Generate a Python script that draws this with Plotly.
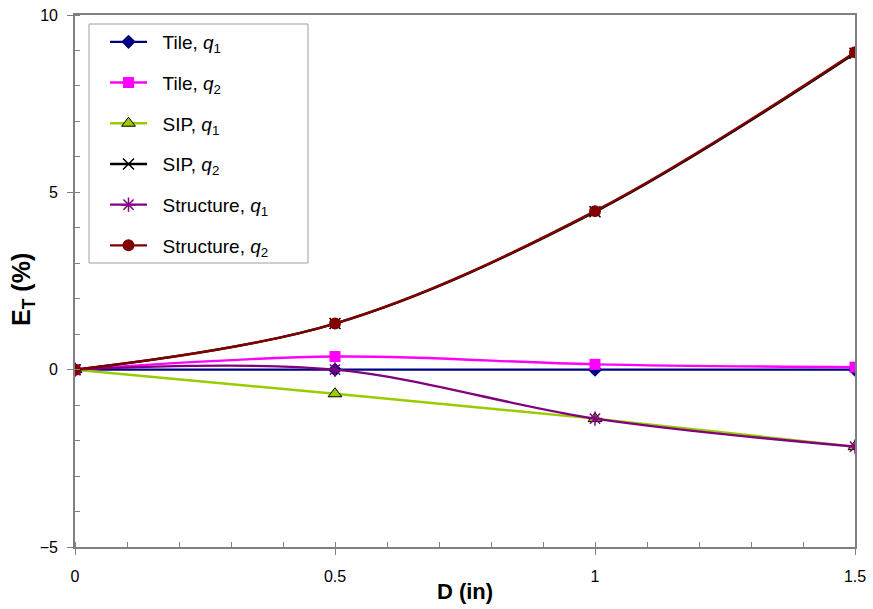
import plotly.graph_objects as go

D = [0, 0.5, 1.0, 1.5]
tile_q1 = [0, 0.0, 0.0, 0.0]
tile_q2 = [0, 0.37, 0.15, 0.07]
sip_q1 = [0, -0.68, -1.38, -2.17]
sip_q2 = [0, 1.3, 4.45, 8.92]
struct_q1 = [0, 0.0, -1.38, -2.17]
struct_q2 = [0, 1.3, 4.47, 8.95]

FONT = "Liberation Sans, Arial, sans-serif"
PAD = "\u00a0\u00a0"

series = [
    ("Tile, <i>q</i><sub>1</sub>", tile_q1, "#000080", dict(symbol="diamond", size=11, color="#000080")),
    ("Tile, <i>q</i><sub>2</sub>", tile_q2, "#FF00FF", dict(symbol="square", size=11, color="#FF00FF")),
    ("SIP, <i>q</i><sub>1</sub>", sip_q1, "#99CC00", dict(symbol="triangle-up", size=12, color="#99CC00", line=dict(color="black", width=1))),
    ("SIP, <i>q</i><sub>2</sub>", sip_q2, "#000000", dict(symbol="x-thin", size=11, color="#000000", line=dict(color="#000000", width=1.5))),
    ("Structure, <i>q</i><sub>1</sub>", struct_q1, "#800080", dict(symbol="asterisk", size=12, color="#800080", line=dict(color="#800080", width=1.5))),
    ("Structure, <i>q</i><sub>2</sub>", struct_q2, "#800000", dict(symbol="circle", size=12, color="#800000")),
]

fig = go.Figure()
for i, (name, ys, col, mk) in enumerate(series):
    fig.add_trace(go.Scatter(
        x=D, y=ys, name=PAD + name, mode="lines+markers",
        line=dict(color=col, width=2.4, shape="spline", smoothing=1),
        marker=mk, legendgroup=f"g{i}",
    ))

axis_common = dict(
    showline=True, linecolor="#808080", linewidth=1.6, mirror=True,
    showgrid=False, zeroline=False, automargin=False,
    ticks="outside", ticklen=6, tickcolor="#808080", tickwidth=1,
    tickfont=dict(family=FONT, size=16, color="black"),
)

fig.update_xaxes(
    range=[0, 1.5], tickvals=[0, 0.5, 1, 1.5], ticktext=["0", "0.5", "1", "1.5"],
    minor=dict(dtick=0.1, ticks="inside", ticklen=5, tickcolor="#808080"),
    ticklabelstandoff=8,
    title=dict(text="<b>D (in)</b>", font=dict(family=FONT, size=22, color="black"), standoff=0),
    **axis_common,
)
fig.update_yaxes(
    range=[-5, 10], tickvals=[-5, 0, 5, 10],
    minor=dict(dtick=1, ticks="inside", ticklen=5, tickcolor="#808080"),
    ticklabelstandoff=6,
    **axis_common,
)

fig.add_annotation(
    text="<b>E<sub>T</sub> (%)</b>", textangle=-90,
    xref="paper", yref="paper", x=(23 - 75) / 780, y=1 - (290 - 15) / 532,
    xanchor="center", yanchor="middle", showarrow=False,
    font=dict(family=FONT, size=25, color="black"),
)

fig.add_shape(
    type="rect", xref="paper", yref="paper",
    x0=(89 - 75) / 780, x1=(308 - 75) / 780,
    y0=1 - (263 - 15) / 532, y1=1 - (24 - 15) / 532,
    line=dict(color="#a0a0a0", width=1), fillcolor="white", layer="above",
)

fig.update_layout(
    width=873, height=609,
    margin=dict(l=75, r=18, t=15, b=62),
    paper_bgcolor="white", plot_bgcolor="white",
    showlegend=True,
    legend=dict(
        x=(105 - 75) / 780, y=0.985, xanchor="left", yanchor="top",
        bgcolor="rgba(0,0,0,0)", borderwidth=0,
        font=dict(family=FONT, size=19, color="black"),
        itemwidth=37, traceorder="grouped", tracegroupgap=13,
    ),
)

fig.write_html("out.html")
